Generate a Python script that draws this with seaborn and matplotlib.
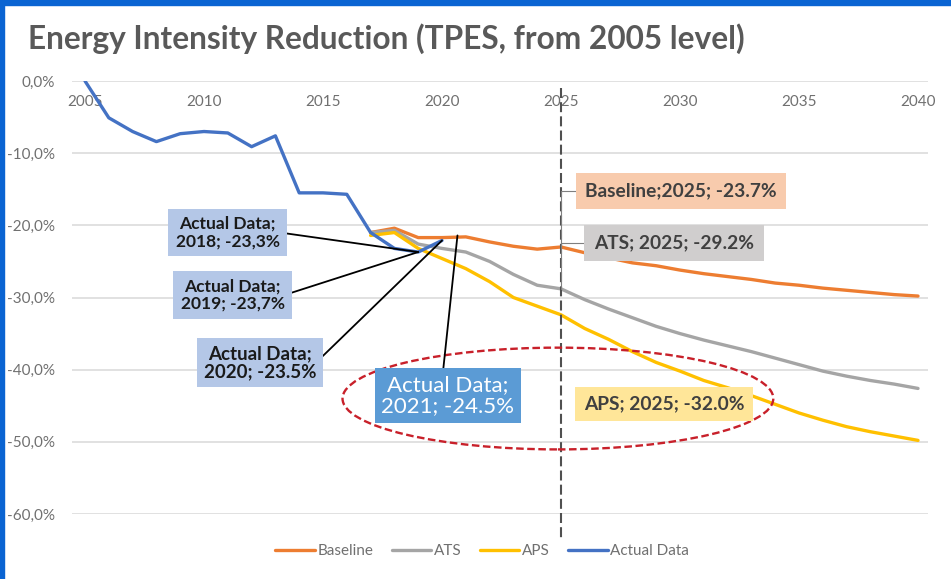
import matplotlib
matplotlib.use("Agg")
import matplotlib.pyplot as plt
import seaborn as sns
from matplotlib.patches import Ellipse, Rectangle
from matplotlib.ticker import FuncFormatter

# data (percent change vs 2005)
actual_years = list(range(2005, 2021))
actual = [0.0, -5.1, -7.0, -8.4, -7.3, -7.0, -7.2, -9.1, -7.6, -15.5, -15.5, -15.7,
          -21.0, -23.2, -23.7, -22.1]

proj_years = list(range(2017, 2041))
baseline = [-21.0, -20.4, -21.7, -21.7, -21.6, -22.3, -22.9, -23.3, -23.0, -23.8, -24.5, -25.2,
            -25.6, -26.2, -26.7, -27.1, -27.5, -28.0, -28.3, -28.7, -29.0, -29.3, -29.6, -29.8]
ats = [-21.0, -20.7, -22.6, -23.2, -23.7, -25.0, -26.8, -28.3, -28.8, -30.3, -31.6, -32.8,
       -34.0, -35.0, -35.9, -36.7, -37.5, -38.4, -39.3, -40.2, -40.9, -41.5, -42.0, -42.6]
aps = [-21.4, -21.0, -23.2, -24.6, -26.0, -27.8, -30.0, -31.2, -32.4, -34.3, -35.8, -37.5,
       -39.0, -40.2, -41.5, -42.5, -43.6, -44.8, -46.0, -47.0, -47.9, -48.6, -49.2, -49.8]

series_names = ["Baseline", "ATS", "APS", "Actual Data"]
colors = ["#ED7D31", "#A5A5A5", "#FFC000", "#4472C4"]
xticks = [2005, 2010, 2015, 2020, 2025, 2030, 2035, 2040]
yticks = [0, -10, -20, -30, -40, -50, -60]

sns.set_theme(style="white")
plt.rcParams["font.family"] = ["Lato", "DejaVu Sans"]

fig = plt.figure(figsize=(9.51, 5.79), dpi=100)
ax = fig.add_axes([72 / 951, 65 / 579, 856 / 951, 433 / 579])

# slide frame
fig.patches.append(Rectangle((0, 1 - 5 / 579), 1, 5 / 579, transform=fig.transFigure,
                             color="#0A64D2", zorder=0))
fig.patches.append(Rectangle((0, 0), 4 / 951, 1, transform=fig.transFigure,
                             color="#0A64D2", zorder=0))

for yv in yticks:
    ax.axhline(yv, color="#D9D9D9", lw=1.1, zorder=1)

sns.lineplot(x=proj_years, y=baseline, ax=ax, color=colors[0], lw=2.4, label=series_names[0], zorder=3)
sns.lineplot(x=proj_years, y=ats, ax=ax, color=colors[1], lw=2.4, label=series_names[1], zorder=3)
sns.lineplot(x=proj_years, y=aps, ax=ax, color=colors[2], lw=2.4, label=series_names[2], zorder=3)
sns.lineplot(x=actual_years, y=actual, ax=ax, color=colors[3], lw=2.4, label=series_names[3], zorder=4)

ax.set_xlim(2005 - 13 / 23.8, 2040 + 10 / 23.8)
ax.set_ylim(-60, 0)
for s in ax.spines.values():
    s.set_visible(False)

ax.set_xticks(xticks)
ax.set_yticks(yticks)
ax.yaxis.set_major_formatter(FuncFormatter(lambda v, p: f"{v:.1f}%".replace(".", ",").replace("-0,0", "0,0")))
ax.tick_params(axis="y", length=0, pad=12, labelsize=11, labelcolor="#707070")
ax.tick_params(axis="x", length=0, bottom=False, labelbottom=False, top=False, labeltop=True,
               pad=-20, labelsize=11, labelcolor="#707070")
ax.set_xlabel("")
ax.set_ylabel("")

# 2025 marker
ax.plot([2025, 2025], [-1.0, -63.3], color="#505050", lw=1.5, ls=(0, (4.8, 2.0)), clip_on=False, zorder=5)

# red dashed ellipse
ax.add_patch(Ellipse((2024.87, -44.0), 18.1, 14.1, fill=False, edgecolor="#C8202A",
                     lw=1.7, ls=(0, (3.2, 1.5)), zorder=6))

# actual data callouts
lead = dict(arrowstyle="-", color="black", lw=1.3, shrinkA=0, shrinkB=0)
box_lt = dict(boxstyle="square,pad=0.42", fc="#B4C7E7", ec="none")
ax.annotate("Actual Data;\n2018; -23,3%", xy=(2019, actual[14]), xytext=(2010.99, -20.99),
            ha="center", va="center", fontsize=12.5, fontweight="bold", color="#1A1A1A",
            linespacing=1.1, bbox=box_lt, arrowprops=dict(lead, relpos=(1, 0.5)), zorder=8)
ax.annotate("Actual Data;\n2019; -23,7%", xy=(2019, actual[14]), xytext=(2011.2, -29.65),
            ha="center", va="center", fontsize=12.5, fontweight="bold", color="#1A1A1A",
            linespacing=1.1, bbox=box_lt, arrowprops=dict(lead, relpos=(1, 0.5)), zorder=8)
ax.annotate("Actual Data;\n2020; -23.5%", xy=(2020, actual[15]), xytext=(2012.35, -39.0),
            ha="center", va="center", fontsize=13.5, fontweight="bold", color="#1A1A1A",
            linespacing=1.1, bbox=dict(box_lt, boxstyle="square,pad=0.35"),
            arrowprops=dict(lead, relpos=(1, 0.5)), zorder=8)
ax.annotate("Actual Data;\n2021; -24.5%", xy=(2020.65, -21.4), xytext=(2020.25, -43.58),
            ha="center", va="center", fontsize=16, color="white",
            linespacing=1.05, bbox=dict(boxstyle="square,pad=0.3", fc="#5B9BD5", ec="none"),
            arrowprops=dict(lead, relpos=(0.46, 1)), zorder=8)

# 2025 scenario callouts
thin = dict(arrowstyle="-", color="#7F7F7F", lw=0.8, shrinkA=0, shrinkB=0, relpos=(0, 0.5),
            connectionstyle="angle,angleA=180,angleB=90,rad=0")
ax.annotate("Baseline;2025; -23.7%", xy=(2025, baseline[8]), xytext=(2030.04, -15.24),
            ha="center", va="center", fontsize=13.8, fontweight="bold", color="#404040",
            bbox=dict(boxstyle="square,pad=0.5", fc="#F8CBAD", ec="none"),
            arrowprops=thin, zorder=8)
ax.annotate("ATS; 2025; -29.2%", xy=(2025, ats[8]), xytext=(2029.75, -22.45),
            ha="center", va="center", fontsize=13.8, fontweight="bold", color="#404040",
            bbox=dict(boxstyle="square,pad=0.5", fc="#D0CECE", ec="none"),
            arrowprops=thin, zorder=8)
ax.text(2029.33, -44.75, "APS; 2025; -32.0%", ha="center", va="center", fontsize=13.8,
        fontweight="bold", color="#404040",
        bbox=dict(boxstyle="square,pad=0.45", fc="#FFE699", ec="none"), zorder=8)

fig.text(28 / 951, 1 - 49 / 579, "Energy Intensity Reduction (TPES, from 2005 level)",
         fontsize=22.8, fontweight="bold", color="#595959", ha="left", va="baseline")

ax.legend(loc="center", bbox_to_anchor=(482 / 951, 28 / 579), bbox_transform=fig.transFigure,
          ncol=4, frameon=False, fontsize=11, labelcolor="#707070", handlelength=2.6,
          handletextpad=0.15, columnspacing=1.2, borderaxespad=0)

fig.savefig("out.png", dpi=100)
